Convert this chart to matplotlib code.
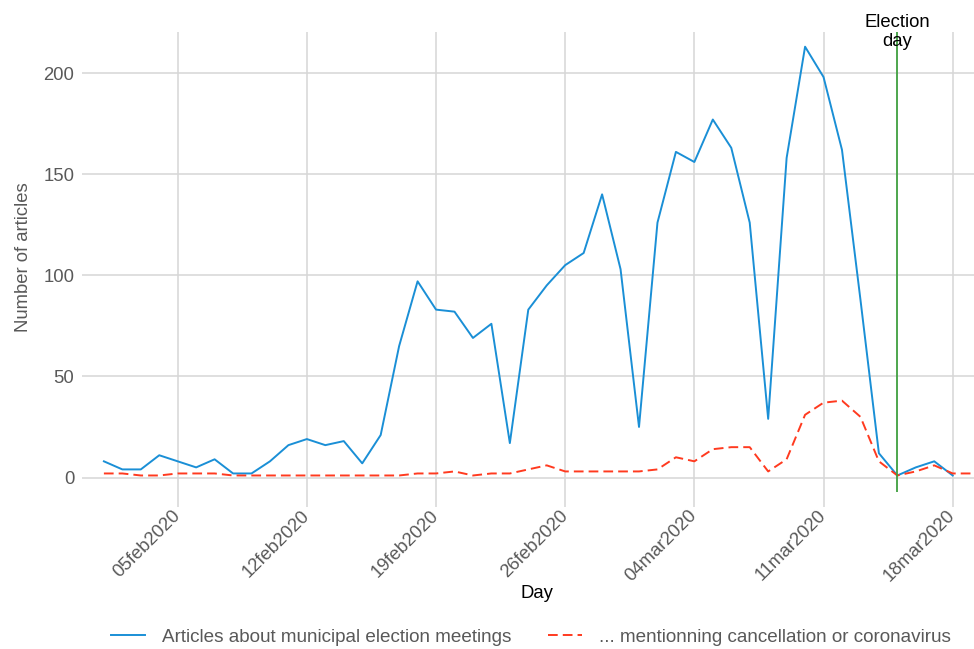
import numpy as np
import pandas as pd
import matplotlib
matplotlib.use("Agg")
import matplotlib.pyplot as plt
import matplotlib.dates as mdates
import matplotlib.transforms as mtransforms

plt.rcParams['font.family'] = ['Liberation Sans', 'DejaVu Sans']

# ---- data -------------------------------------------------------------
start_day = "2020-02-01"
n_days = 48
articles = [8, 4, 4, 11, 8, 5, 9, 2, 2, 8, 16, 19, 16, 18, 7, 21,
            65, 97, 83, 82, 69, 76, 17, 83, 95, 105, 111, 140, 103, 25,
            126, 161, 156, 177, 163, 126, 29, 158, 213, 198, 162, 88,
            12, 1, 5, 8, 1, np.nan]
cancel = [2, 2, 1, 1, 2, 2, 2, 1, 1, 1, 1, 1, 1, 1, 1, 1,
          1, 2, 2, 3, 1, 2, 2, 4, 6, 3, 3, 3, 3, 3,
          4, 10, 8, 14, 15, 15, 3, 9, 31, 37, 38, 30,
          8, 1, 3, 6, 2, 2]
tick_dates = ["2020-02-05", "2020-02-12", "2020-02-19", "2020-02-26",
              "2020-03-04", "2020-03-11", "2020-03-18"]
tick_labels = ["05feb2020", "12feb2020", "19feb2020", "26feb2020",
               "04mar2020", "11mar2020", "18mar2020"]
y_ticks = [0, 50, 100, 150, 200]
election_day = "2020-03-15"
series_labels = ["Articles about municipal election meetings",
                 "... mentionning cancellation or coronavirus"]

days = pd.date_range(start_day, periods=n_days, freq="D")

# ---- figure -----------------------------------------------------------
W, H = 974, 649
fig = plt.figure(figsize=(W / 100, H / 100), dpi=100)
left_px, right_px, top_px, bot_px = 100, 974, 32, 492
ax = fig.add_axes([left_px / W, 1 - bot_px / H,
                   (right_px - left_px) / W, (bot_px - top_px) / H])

blue = "#1a8fd6"
red = "#ff3a1f"
green = "#3f9f3f"
grid_c = "#d6d6d6"
lab_c = "#595959"
fs = 13.3

ax.plot(days, articles, color=blue, lw=1.4, label=series_labels[0], zorder=3)
ax.plot(days, cancel, color=red, lw=1.4, ls=(0, (5, 2.6)),
        label=series_labels[1], zorder=3)

ed = pd.Timestamp(election_day)
ax.axvline(ed, color=green, lw=1.3, zorder=4)
trans = mtransforms.blended_transform_factory(ax.transData, ax.transAxes)
ax.text(ed, 1.0, "Election\nday", transform=trans, ha="center", va="center",
        fontsize=fs, color="black", linespacing=1.1, clip_on=False, zorder=5)

# limits mapped to pixel positions
x0 = mdates.date2num(pd.Timestamp(start_day))
px_per_day = 18.452
x_first_px = 103.9
ax.set_xlim(x0 + (left_px - x_first_px) / px_per_day,
            x0 + (right_px - x_first_px) / px_per_day)
y0_px, px_per_unit = 477.5, 2.0225
ax.set_ylim((y0_px - bot_px) / px_per_unit, (y0_px - top_px) / px_per_unit)

ax.set_xticks([pd.Timestamp(d) for d in tick_dates])
ax.set_xticklabels(tick_labels, rotation=45, ha="right", va="center",
                   rotation_mode="anchor")
ax.set_yticks(y_ticks)
ax.set_yticklabels([str(v) for v in y_ticks])

ax.grid(True, color=grid_c, lw=1.1)
ax.set_axisbelow(True)
for s in ax.spines.values():
    s.set_visible(False)
ax.tick_params(axis="y", length=13, width=1.1, color=grid_c, labelsize=fs,
               labelcolor=lab_c, pad=5.5)
ax.tick_params(axis="x", length=11, width=1.1, color=grid_c, labelsize=fs,
               labelcolor=lab_c, pad=4)

fig.text(24 / W, 1 - 257 / H, "Number of articles", rotation=90,
         ha="center", va="center", fontsize=fs, color=lab_c)
fig.text(537 / W, 1 - 593 / H, "Day", ha="center", va="center",
         fontsize=fs, color="black")

leg = fig.legend(loc="center", bbox_to_anchor=(531 / W, 1 - 637 / H),
                 ncol=2, frameon=False, fontsize=13.6, handlelength=1.8,
                 handletextpad=0.9, columnspacing=1.9, labelcolor=lab_c)

fig.savefig("out.png", dpi=100)
